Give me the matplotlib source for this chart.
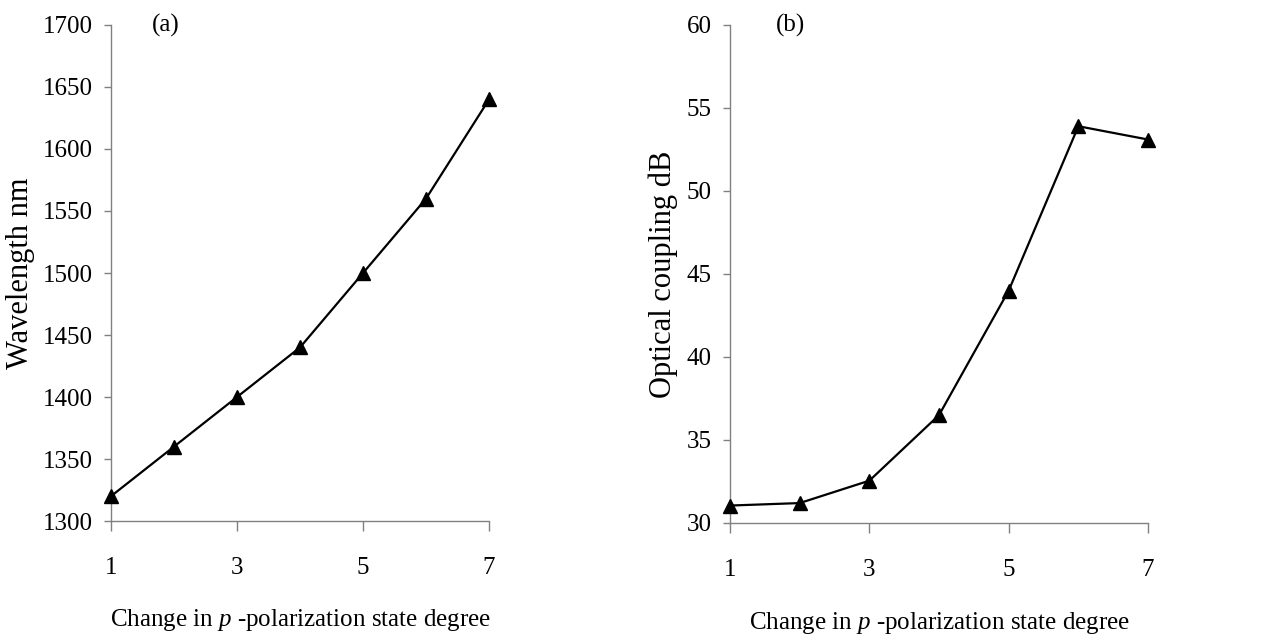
import matplotlib
matplotlib.use("Agg")
import matplotlib.pyplot as plt

# data
degree = [1, 2, 3, 4, 5, 6, 7]
wavelength = [1320, 1360, 1400, 1440, 1500, 1560, 1640]
coupling = [31.05, 31.2, 32.55, 36.5, 44.0, 53.9, 53.1]

plt.rcParams['font.family'] = ['Liberation Serif', 'DejaVu Serif']
plt.rcParams['mathtext.fontset'] = 'custom'
plt.rcParams['mathtext.rm'] = 'Liberation Serif'
plt.rcParams['mathtext.it'] = 'Liberation Serif:italic'

fig = plt.figure(figsize=(12.67, 6.34), dpi=100)
axA = fig.add_axes([0.0876, 0.1782, 0.2984, 0.7824])
axB = fig.add_axes([0.5762, 0.1751, 0.3299, 0.7855])

xlabel = r"Change in $\mathit{p}$ -polarization state degree"
fs = 18


def style_axis(ax, ylim, yticks, ylabel, tag, ylab_x):
    ax.set_xlim(1, 7)
    ax.set_ylim(*ylim)
    ax.set_xticks([1, 3, 5, 7])
    ax.set_yticks(yticks)
    for s in ['top', 'right']:
        ax.spines[s].set_visible(False)
    for s in ['left', 'bottom']:
        ax.spines[s].set_color('#808080')
        ax.spines[s].set_linewidth(1.0)
    ax.tick_params(axis='x', direction='out', length=7, width=1.0, color='#808080',
                   labelsize=fs, pad=19)
    ax.tick_params(axis='y', direction='out', length=5, width=1.0, color='#808080',
                   labelsize=fs, pad=8)
    ax.set_xlabel(xlabel, fontsize=fs, va='center', ha='center')
    ax.xaxis.set_label_coords(0.5, -0.2)
    ax.set_ylabel(ylabel, fontsize=22, va='center', ha='center')
    ax.yaxis.set_label_coords(ylab_x, 0.5)
    ax.text(0.145, 1.0, tag, transform=ax.transAxes, fontsize=fs,
            ha='center', va='center')


axA.plot(degree, wavelength, color='black', lw=1.6, marker='^', markersize=9.5,
         clip_on=False, zorder=5)
style_axis(axA, (1300, 1700), range(1300, 1701, 50), "Wavelength nm", "(a)", -0.24)

axB.plot(degree, coupling, color='black', lw=1.6, marker='^', markersize=9.5,
         clip_on=False, zorder=5)
style_axis(axB, (30, 60), range(30, 61, 5), "Optical coupling dB", "(b)", -0.16)

fig.savefig("out.png", dpi=100)
